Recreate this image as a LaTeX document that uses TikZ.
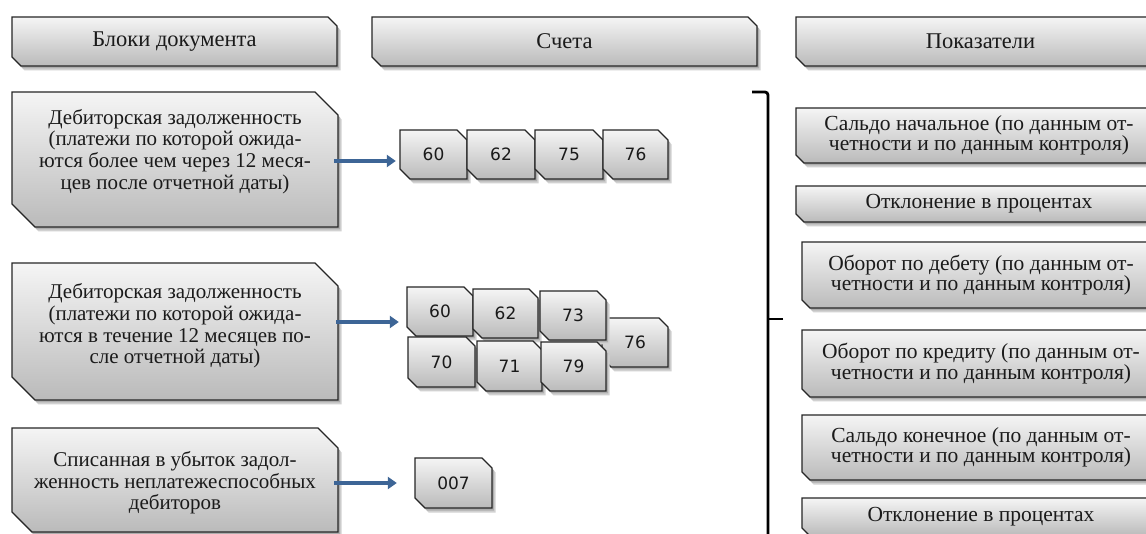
\documentclass[tikz,border=0pt]{standalone}
\usepackage{fontspec}
\setmainfont{Liberation Serif}
\newfontfamily\numfont{DejaVu Sans}
\usetikzlibrary{arrows.meta,calc}

\definecolor{arrowblue}{HTML}{3D6596}
\definecolor{inkgray}{HTML}{1A1A1A}

\tikzset{
  boxline/.style={draw=black!85, line width=1.3pt, top color=black!4, bottom color=black!27},
  boxshadeA/.style={fill=black!18},
  boxshadeB/.style={fill=black!32},
  boxtext/.style={shape=rectangle, inner sep=0pt, align=center, text=inkgray,
    font=\fontsize{21}{21.7}\selectfont},
  headtext/.style={font=\fontsize{22.5}{24}\selectfont},
  indtext/.style={font=\fontsize{21.5}{20.5}\selectfont},
  numtext/.style={font=\numfont\fontsize{17}{20}\selectfont},
  arrowline/.style={draw=arrowblue, line width=4pt, -{Triangle[length=9pt,width=12pt]}},
  bracketline/.style={draw=black, line width=2.8pt, rounded corners=3pt},
}

% Box with snipped top-right and bottom-left corners, soft drop shadow
% and vertical grey gradient; a named node of the same size carries the text.
% #1 node options, #2 name, #3 x1, #4 y1, #5 x2, #6 y2, #7 snip size, #8 text
\newcommand\snipbox[8][]{%
  \path[boxshadeA, shift={(3.5,4.5)}] (#3,#4) -- ({#5-#7},#4) -- (#5,{#4+#7}) -- (#5,#6) -- ({#3+#7},#6) -- (#3,{#6-#7}) -- cycle;
  \path[boxshadeB, shift={(2,2.5)}] (#3,#4) -- ({#5-#7},#4) -- (#5,{#4+#7}) -- (#5,#6) -- ({#3+#7},#6) -- (#3,{#6-#7}) -- cycle;
  \path[boxline] (#3,#4) -- ({#5-#7},#4) -- (#5,{#4+#7}) -- (#5,#6) -- ({#3+#7},#6) -- (#3,{#6-#7}) -- cycle;
  \node[boxtext, minimum width={(#5-#3)*1pt}, minimum height={(#6-#4)*1pt}, #1]
    (#2) at ({(#3+#5)/2},{(#4+#6)/2}) {#8};
}

\begin{document}
\begin{tikzpicture}[x=1pt, y=-1pt]
\useasboundingbox (0,0) rectangle (1146,534);
\fill[white] (0,0) rectangle (1146,534);
\clip (0,0) rectangle (1146,534);

% column headers
\snipbox[headtext]{hblocks}{12}{17}{337}{66}{9}{Блоки документа}
\snipbox[headtext]{haccounts}{372}{17}{757}{66}{9}{Счета}
\snipbox[headtext]{hindicators}{796}{17}{1165}{66}{9}{Показатели}

% document blocks
\snipbox[yshift=8pt]{left1}{12}{92}{338}{227}{23}{Дебиторская задолженность\\(платежи по которой ожида-\\ются более чем через 12 меся-\\цев после отчетной даты)}
\snipbox[yshift=5.5pt]{left2}{12}{263}{338}{400}{23}{Дебиторская задолженность\\(платежи по которой ожида-\\ются в течение 12 месяцев по-\\сле отчетной даты)}
\snipbox[yshift=-3pt]{left3}{12}{428}{338}{532}{20}{Списанная в убыток задол-\\женность неплатежеспособных\\дебиторов}

% accounts, first group
\snipbox[numtext]{a60}{400}{130}{467}{179}{10}{60}
\snipbox[numtext]{a62}{467}{130}{535}{179}{10}{62}
\snipbox[numtext]{a75}{535}{130}{603}{179}{10}{75}
\snipbox[numtext]{a76}{603}{130}{668}{179}{10}{76}

% accounts, second group
\snipbox[numtext]{b60}{407}{287}{473}{336}{9}{60}
\snipbox[numtext]{b62}{473}{289}{538}{338}{9}{62}
\snipbox[numtext]{b76}{602}{318}{668}{367}{9}{76}
\snipbox[numtext]{b73}{540}{291}{606}{340}{9}{73}
\snipbox[numtext]{b70}{408}{337}{475}{387}{9}{70}
\snipbox[numtext]{b71}{477}{341}{542}{391}{9}{71}
\snipbox[numtext]{b79}{541}{342}{606}{391}{9}{79}

% accounts, third group
\snipbox[numtext]{c007}{415}{458}{492}{508}{10}{007}

% arrows from blocks to accounts
\draw[arrowline] ([xshift=-4pt,yshift=-9.5pt]left1.east) -- ([xshift=-4pt,yshift=-9.5pt]left1.east -| a60.west);
\draw[arrowline] ([xshift=-2pt,yshift=4pt]left2.east) -- ([xshift=-8pt,yshift=4pt]left2.east -| b60.west);
\draw[arrowline] ([xshift=-4pt]left3.east) -- ([xshift=-18pt]left3.east -| c007.west);

% indicators
\snipbox[indtext]{r1}{796}{108}{1162}{163}{8}{Сальдо начальное (по данным от-\\четности и по данным контроля)}
\snipbox[indtext]{r2}{796}{186}{1162}{222}{8}{Отклонение в процентах}
\snipbox[indtext]{r3}{802}{242}{1160}{308}{8}{Оборот по дебету (по данным от-\\четности и по данным контроля)}
\snipbox[indtext]{r4}{802}{330}{1160}{397}{8}{Оборот по кредиту (по данным от-\\четности и по данным контроля)}
\snipbox[indtext]{r5}{802}{415}{1160}{480}{8}{Сальдо конечное (по данным от-\\четности и по данным контроля)}
\snipbox[indtext]{r6}{802}{498}{1160}{536}{8}{Отклонение в процентах}

% bracket gathering the indicators
\coordinate (brtop) at (752,92);
\coordinate (brbot) at (768,545);
\coordinate (brtip) at (783,319);
\draw[bracketline] (brtop) -| (brbot);
\draw[draw=black, line width=2.8pt] (brtip) -- (brtip -| brbot);
\end{tikzpicture}
\end{document}
